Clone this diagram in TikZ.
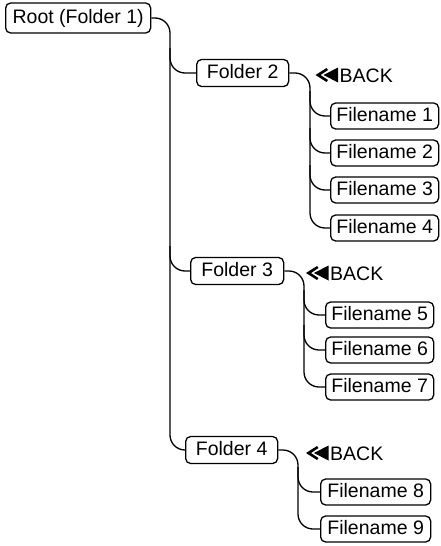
\documentclass[tikz,border=0pt]{standalone}
\usepackage{fontspec}
\setmainfont{Liberation Sans}
\usetikzlibrary{calc}
\begin{document}
\begin{tikzpicture}[x=1pt,y=-1pt,
  every node/.style={font=\fontsize{19.5}{21}\selectfont},
  box/.style={draw,line width=1.3pt,rounded corners=5pt,inner sep=0pt,
    text height=14pt,text depth=3.5pt,anchor=west,align=center},
  rootbox/.style={box,minimum width=145pt,minimum height=30pt},
  folderbox/.style={box,minimum width=92pt,minimum height=27pt},
  filebox/.style={box,minimum width=108pt,minimum height=26pt},
  backlbl/.style={anchor=west,inner sep=0pt,text height=14pt,text depth=0pt},
  conn/.style={line width=1.3pt,rounded corners=15pt},
  chev/.pic={
    \fill (0,0) -- (11,-7) -- (12.5,-5) -- (5,0) -- (12.5,5) -- (11,7) -- cycle;
    \fill (8,0) -- (22.5,-7.5) -- (22.5,7.5) -- cycle;
  }]
\useasboundingbox (0,0) rectangle (441,546);

% nodes
\node[rootbox] (root) at (5,18) {Root (Folder 1)};
\node[folderbox] (f2) at (196,73) {Folder 2};
\node[folderbox,minimum width=93pt] (f3) at (190,271) {Folder 3};
\node[folderbox] (f4) at (185,450) {Folder 4};

\node[filebox] (n1) at (330,116) {Filename 1};
\node[filebox] (n2) at (330,153) {Filename 2};
\node[filebox] (n3) at (330,190) {Filename 3};
\node[filebox] (n4) at (330,228) {Filename 4};
\node[filebox] (n5) at (325,315) {Filename 5};
\node[filebox] (n6) at (325,350) {Filename 6};
\node[filebox] (n7) at (325,387) {Filename 7};
\node[filebox,minimum width=110pt] (n8) at (320,492) {Filename 8};
\node[filebox,minimum width=110pt] (n9) at (320,529) {Filename 9};

% BACK labels
\node[backlbl] (b2) at (339.5,75) {BACK};
\node[backlbl] (b3) at (330,273) {BACK};
\node[backlbl] (b4) at (330,453) {BACK};
\pic at ([xshift=-24pt]b2.west) {chev};
\pic at ([xshift=-24pt]b3.west) {chev};
\pic at ([xshift=-24pt]b4.west) {chev};

% trunk
\coordinate (t) at (170,0);
\draw[conn] (root.east) -| (t |- f4.west) -- (f4.west);
\draw[conn] ($(t |- f2.west)+(0,-25)$) |- (f2.west);
\draw[conn] ($(t |- f3.west)+(0,-25)$) |- (f3.west);

% folder 2 subtree
\coordinate (s2) at (310,0);
\draw[conn] (f2.east) -| (s2 |- n4.west) -- (n4.west);
\draw[conn] ($(s2 |- n1.west)+(0,-25)$) |- (n1.west);
\draw[conn] ($(s2 |- n2.west)+(0,-25)$) |- (n2.west);
\draw[conn] ($(s2 |- n3.west)+(0,-25)$) |- (n3.west);

% folder 3 subtree
\coordinate (s3) at (304,0);
\draw[conn] (f3.east) -| (s3 |- n7.west) -- (n7.west);
\draw[conn] ($(s3 |- n5.west)+(0,-25)$) |- (n5.west);
\draw[conn] ($(s3 |- n6.west)+(0,-25)$) |- (n6.west);

% folder 4 subtree
\coordinate (s4) at (298,0);
\draw[conn] (f4.east) -| (s4 |- n9.west) -- (n9.west);
\draw[conn] ($(s4 |- n8.west)+(0,-25)$) |- (n8.west);
\end{tikzpicture}
\end{document}
